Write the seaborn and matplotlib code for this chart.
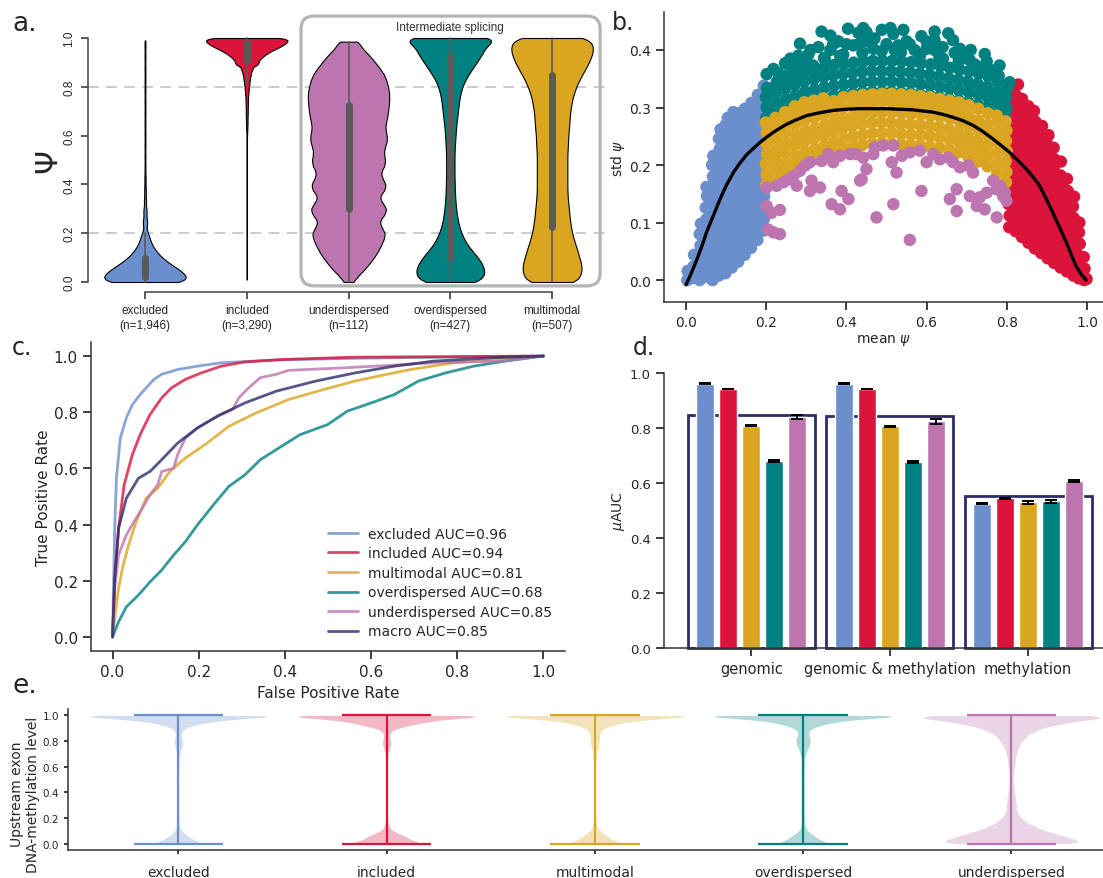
import numpy as np
import pandas as pd
import matplotlib
matplotlib.use("Agg")
import matplotlib.pyplot as plt
import seaborn as sns
from matplotlib.patches import FancyBboxPatch

# ------------------------------------------------------------------ colours
C_EXC, C_INC, C_UND, C_OVR, C_MUL = "#6b8fcc", "#dc143c", "#bc75af", "#008080", "#daa520"
NAVY = "#2b2d6b"
pal = {"excluded": C_EXC, "included": C_INC, "underdispersed": C_UND,
       "overdispersed": C_OVR, "multimodal": C_MUL}

# ------------------------------------------------------------------ panel a data (psi distributions)
classes_a = ["excluded", "included", "underdispersed", "overdispersed", "multimodal"]
n_a = ["1,946", "3,290", "112", "427", "507"]

psi_exc_levels = [0.0, 0.02, 0.04, 0.06, 0.08, 0.10, 0.12, 0.14, 0.16, 0.18, 0.20,
                  0.245, 0.29, 0.335, 0.38, 0.425, 0.47, 0.515, 0.56, 0.605, 0.65, 0.695,
                  0.74, 0.785, 0.83, 0.875, 0.92, 0.965, 0.99]
psi_exc_counts = [120, 101, 95, 75, 56, 41, 30, 21, 15, 11, 9,
                  11, 8, 5, 4, 3, 2, 2, 2, 2, 2, 2, 2, 2, 2, 2, 2, 2, 1]

psi_inc_levels = [0.01, 0.03, 0.05, 0.07, 0.09, 0.11, 0.13, 0.15, 0.17, 0.19, 0.21, 0.23,
                  0.25, 0.27, 0.29, 0.31, 0.33, 0.35, 0.37, 0.39, 0.41, 0.43, 0.45, 0.47,
                  0.49, 0.51, 0.53, 0.55, 0.57, 0.59, 0.61, 0.63, 0.65, 0.67, 0.69, 0.71,
                  0.73, 0.75, 0.77, 0.79, 0.81, 0.83, 0.85, 0.87, 0.89, 0.90, 0.91, 0.92,
                  0.93, 0.94, 0.95, 0.96, 0.97, 0.98, 0.99, 1.0]
psi_inc_counts = [1, 1, 1, 1, 1, 1, 1, 1, 1, 1, 1, 1, 1, 1, 1, 1, 1, 1, 1, 1, 1, 1, 1, 1,
                  1, 1, 1, 1, 1, 1, 2, 3, 4, 4, 5, 5, 6, 6, 8, 10, 13, 16, 20, 27, 38, 27,
                  32, 38, 46, 55, 67, 80, 93, 103, 104, 125]

psi_und_levels = [0.000, 0.025, 0.050, 0.075, 0.100, 0.125, 0.150, 0.175, 0.200, 0.225,
                  0.250, 0.275, 0.300, 0.325, 0.350, 0.375, 0.400, 0.425, 0.450, 0.475,
                  0.500, 0.525, 0.550, 0.575, 0.600, 0.625, 0.650, 0.675, 0.700, 0.725,
                  0.750, 0.775, 0.800, 0.825, 0.850, 0.875, 0.900, 0.925, 0.950, 0.975, 0.985]
psi_und_counts = [12, 24, 40, 53, 65, 75, 83, 90, 94, 84, 78, 92, 98, 86, 78, 92, 96, 86, 82,
                  92, 94, 90, 92, 98, 98, 94, 95, 99, 101, 103, 104, 104, 101, 97, 91, 80,
                  68, 55, 40, 24, 10]

psi_grid = [0.000, 0.025, 0.050, 0.075, 0.100, 0.125, 0.150, 0.175, 0.200, 0.225, 0.250,
            0.275, 0.300, 0.325, 0.350, 0.375, 0.400, 0.425, 0.450, 0.475, 0.500, 0.525,
            0.550, 0.575, 0.600, 0.625, 0.650, 0.675, 0.700, 0.725, 0.750, 0.775, 0.800,
            0.825, 0.850, 0.875, 0.900, 0.925, 0.950, 0.975, 1.000]
psi_ovr_counts = [90, 98, 100, 92, 80, 65, 50, 40, 32, 26, 22, 19, 17, 15, 14, 13, 13, 12, 12,
                  12, 12, 12, 13, 14, 15, 16, 18, 20, 22, 24, 26, 30, 34, 42, 52, 64, 76, 88,
                  98, 104, 160]
psi_mul_counts = [67, 70, 75, 73, 68, 64, 59, 54, 50, 47, 45, 43, 42, 40, 39, 38, 38, 38, 38,
                  38, 38, 38, 39, 40, 40, 42, 43, 44, 45, 48, 50, 55, 60, 67, 75, 84, 92, 98,
                  104, 100, 100]

# ------------------------------------------------------------------ panel b data (mean psi, std psi)
exc_pts = [
    (0.003, 0.000), (0.004, 0.016),
    (0.018, 0.004), (0.019, 0.024), (0.020, 0.044),
    (0.034, 0.000), (0.035, 0.020), (0.033, 0.040), (0.036, 0.060), (0.034, 0.080), (0.037, 0.098),
    (0.050, 0.006), (0.051, 0.026), (0.049, 0.046), (0.052, 0.066), (0.050, 0.086), (0.051, 0.106),
    (0.049, 0.126), (0.052, 0.146), (0.051, 0.162),
    (0.066, 0.000), (0.067, 0.020), (0.065, 0.040), (0.068, 0.060), (0.066, 0.080), (0.067, 0.100),
    (0.065, 0.120), (0.068, 0.140), (0.066, 0.160), (0.067, 0.180), (0.065, 0.200), (0.068, 0.216),
    (0.082, 0.008), (0.083, 0.028), (0.081, 0.048), (0.084, 0.068), (0.082, 0.088), (0.083, 0.108),
    (0.081, 0.128), (0.084, 0.148), (0.082, 0.168), (0.083, 0.188), (0.081, 0.208), (0.084, 0.228),
    (0.082, 0.246), (0.086, 0.262),
    (0.098, 0.012), (0.099, 0.032), (0.097, 0.052), (0.100, 0.072), (0.098, 0.092), (0.099, 0.112),
    (0.097, 0.132), (0.100, 0.152), (0.098, 0.172), (0.099, 0.192), (0.097, 0.212), (0.100, 0.232),
    (0.098, 0.252), (0.099, 0.270), (0.104, 0.282),
    (0.114, 0.022), (0.115, 0.042), (0.113, 0.062), (0.116, 0.082), (0.114, 0.102), (0.115, 0.122),
    (0.113, 0.142), (0.116, 0.162), (0.114, 0.182), (0.115, 0.202), (0.113, 0.222), (0.116, 0.242),
    (0.114, 0.262), (0.115, 0.280), (0.118, 0.292),
    (0.130, 0.032), (0.131, 0.052), (0.129, 0.072), (0.132, 0.092), (0.130, 0.112), (0.131, 0.132),
    (0.129, 0.152), (0.132, 0.172), (0.130, 0.192), (0.131, 0.212), (0.129, 0.232), (0.132, 0.252),
    (0.130, 0.272), (0.131, 0.290),
    (0.146, 0.044), (0.147, 0.064), (0.145, 0.084), (0.148, 0.104), (0.146, 0.124), (0.147, 0.144),
    (0.145, 0.164), (0.148, 0.184), (0.146, 0.204), (0.147, 0.224), (0.145, 0.244), (0.148, 0.264),
    (0.146, 0.282), (0.147, 0.298),
    (0.162, 0.056), (0.163, 0.076), (0.161, 0.096), (0.164, 0.116), (0.162, 0.136), (0.163, 0.156),
    (0.161, 0.176), (0.164, 0.196), (0.162, 0.216), (0.163, 0.236), (0.161, 0.256), (0.164, 0.276),
    (0.162, 0.294), (0.163, 0.308),
    (0.178, 0.070), (0.179, 0.090), (0.177, 0.110), (0.180, 0.130), (0.178, 0.150), (0.179, 0.170),
    (0.177, 0.190), (0.180, 0.210), (0.178, 0.230), (0.179, 0.250), (0.177, 0.270), (0.180, 0.290),
    (0.178, 0.308), (0.179, 0.322),
    (0.193, 0.086), (0.194, 0.106), (0.192, 0.126), (0.195, 0.146), (0.193, 0.166), (0.194, 0.186),
    (0.192, 0.206), (0.195, 0.226), (0.193, 0.246), (0.194, 0.266), (0.192, 0.286), (0.195, 0.306),
    (0.193, 0.324), (0.194, 0.338),
]
inc_pts = [
    (0.806, 0.092), (0.807, 0.112), (0.805, 0.132), (0.808, 0.152), (0.806, 0.172), (0.807, 0.192),
    (0.805, 0.212), (0.808, 0.232), (0.806, 0.252), (0.807, 0.272), (0.805, 0.292), (0.808, 0.312),
    (0.806, 0.330),
    (0.822, 0.085), (0.823, 0.105), (0.821, 0.125), (0.824, 0.145), (0.822, 0.165), (0.823, 0.185),
    (0.821, 0.205), (0.824, 0.225), (0.822, 0.245), (0.823, 0.265), (0.821, 0.285), (0.824, 0.305),
    (0.822, 0.322), (0.828, 0.340),
    (0.838, 0.075), (0.839, 0.095), (0.837, 0.115), (0.840, 0.135), (0.838, 0.155), (0.839, 0.175),
    (0.837, 0.195), (0.840, 0.215), (0.838, 0.235), (0.839, 0.255), (0.837, 0.275), (0.840, 0.295),
    (0.838, 0.315),
    (0.854, 0.065), (0.855, 0.085), (0.853, 0.105), (0.856, 0.125), (0.854, 0.145), (0.855, 0.165),
    (0.853, 0.185), (0.856, 0.205), (0.854, 0.225), (0.855, 0.245), (0.853, 0.265), (0.856, 0.285),
    (0.854, 0.302),
    (0.870, 0.055), (0.871, 0.075), (0.869, 0.095), (0.872, 0.115), (0.870, 0.135), (0.871, 0.155),
    (0.869, 0.175), (0.872, 0.195), (0.870, 0.215), (0.871, 0.235), (0.869, 0.255), (0.872, 0.275),
    (0.868, 0.294),
    (0.886, 0.047), (0.887, 0.067), (0.885, 0.087), (0.888, 0.107), (0.886, 0.127), (0.887, 0.147),
    (0.885, 0.167), (0.888, 0.187), (0.886, 0.207), (0.887, 0.227), (0.885, 0.247), (0.888, 0.268),
    (0.902, 0.038), (0.903, 0.058), (0.901, 0.078), (0.904, 0.098), (0.902, 0.118), (0.903, 0.138),
    (0.901, 0.158), (0.904, 0.178), (0.902, 0.198), (0.903, 0.218), (0.901, 0.236), (0.904, 0.252),
    (0.918, 0.030), (0.919, 0.050), (0.917, 0.070), (0.920, 0.090), (0.918, 0.110), (0.919, 0.130),
    (0.917, 0.150), (0.920, 0.170), (0.918, 0.190), (0.919, 0.210), (0.917, 0.230),
    (0.934, 0.022), (0.935, 0.042), (0.933, 0.062), (0.936, 0.082), (0.934, 0.102), (0.935, 0.122),
    (0.933, 0.142), (0.936, 0.162), (0.934, 0.182), (0.935, 0.206),
    (0.950, 0.015), (0.951, 0.035), (0.949, 0.055), (0.952, 0.075), (0.950, 0.095), (0.951, 0.115),
    (0.949, 0.135), (0.952, 0.155), (0.950, 0.176),
    (0.966, 0.008), (0.967, 0.028), (0.965, 0.048), (0.968, 0.068), (0.966, 0.088), (0.967, 0.108),
    (0.965, 0.128), (0.968, 0.145),
    (0.980, 0.003), (0.981, 0.023), (0.979, 0.043), (0.982, 0.063), (0.980, 0.083), (0.981, 0.100),
    (0.993, 0.000), (0.994, 0.020), (0.992, 0.040), (0.999, 0.002),
]
ovr_pts = [
    (0.200, 0.282), (0.201, 0.300), (0.199, 0.318), (0.202, 0.334),
    (0.224, 0.290), (0.225, 0.308), (0.223, 0.326), (0.226, 0.344),
    (0.248, 0.297), (0.249, 0.315), (0.247, 0.333), (0.250, 0.351),
    (0.272, 0.303), (0.273, 0.321), (0.271, 0.339), (0.274, 0.357), (0.272, 0.372),
    (0.296, 0.309), (0.297, 0.327), (0.295, 0.345), (0.298, 0.363), (0.296, 0.378),
    (0.320, 0.313), (0.321, 0.331), (0.319, 0.349), (0.322, 0.367),
    (0.344, 0.317), (0.345, 0.335), (0.343, 0.353), (0.346, 0.371), (0.344, 0.386),
    (0.368, 0.320), (0.369, 0.338), (0.367, 0.356), (0.370, 0.374),
    (0.392, 0.322), (0.393, 0.340), (0.391, 0.358), (0.394, 0.376), (0.392, 0.392),
    (0.416, 0.324), (0.417, 0.342), (0.415, 0.360), (0.418, 0.378),
    (0.440, 0.326), (0.441, 0.344), (0.439, 0.362), (0.442, 0.380), (0.440, 0.395),
    (0.464, 0.327), (0.465, 0.345), (0.463, 0.363), (0.466, 0.381),
    (0.488, 0.327), (0.489, 0.345), (0.487, 0.363), (0.490, 0.381), (0.488, 0.398),
    (0.512, 0.327), (0.513, 0.345), (0.511, 0.363), (0.514, 0.381),
    (0.536, 0.326), (0.537, 0.344), (0.535, 0.362), (0.538, 0.380), (0.536, 0.396),
    (0.560, 0.325), (0.561, 0.343), (0.559, 0.361), (0.562, 0.379),
    (0.584, 0.323), (0.585, 0.341), (0.583, 0.359), (0.586, 0.377), (0.584, 0.392),
    (0.608, 0.321), (0.609, 0.339), (0.607, 0.357), (0.610, 0.375),
    (0.632, 0.318), (0.633, 0.336), (0.631, 0.354), (0.634, 0.372), (0.632, 0.386),
    (0.656, 0.315), (0.657, 0.333), (0.655, 0.351), (0.658, 0.369),
    (0.680, 0.312), (0.681, 0.330), (0.679, 0.348), (0.682, 0.366), (0.680, 0.380),
    (0.704, 0.309), (0.705, 0.327), (0.703, 0.345), (0.706, 0.363),
    (0.728, 0.305), (0.729, 0.323), (0.727, 0.341), (0.730, 0.359),
    (0.752, 0.300), (0.753, 0.318), (0.751, 0.336), (0.754, 0.354),
    (0.776, 0.291), (0.777, 0.309), (0.775, 0.327), (0.778, 0.345),
    (0.798, 0.280), (0.799, 0.298), (0.797, 0.316), (0.800, 0.332),
    (0.230, 0.360), (0.260, 0.385), (0.280, 0.390), (0.310, 0.400), (0.330, 0.405), (0.360, 0.400),
    (0.380, 0.415), (0.400, 0.410), (0.430, 0.410), (0.450, 0.415), (0.470, 0.420), (0.500, 0.410),
    (0.520, 0.400), (0.550, 0.415), (0.570, 0.400), (0.600, 0.415), (0.620, 0.400), (0.640, 0.405),
    (0.670, 0.395), (0.690, 0.390), (0.720, 0.375), (0.740, 0.370), (0.760, 0.365), (0.780, 0.355),
    (0.430, 0.430), (0.360, 0.425), (0.510, 0.438), (0.620, 0.432), (0.710, 0.400), (0.750, 0.380),
    (0.201, 0.358), (0.218, 0.367), (0.247, 0.377), (0.251, 0.356), (0.267, 0.370), (0.284, 0.411),
    (0.305, 0.392), (0.317, 0.373), (0.338, 0.432), (0.346, 0.385), (0.367, 0.410), (0.384, 0.390),
    (0.404, 0.437), (0.417, 0.408), (0.442, 0.438), (0.450, 0.431), (0.467, 0.402), (0.488, 0.435),
    (0.517, 0.428), (0.529, 0.408), (0.542, 0.435), (0.558, 0.410), (0.583, 0.390), (0.587, 0.424),
    (0.600, 0.402), (0.620, 0.417), (0.641, 0.385), (0.654, 0.429), (0.666, 0.417), (0.683, 0.402),
    (0.708, 0.382), (0.745, 0.393), (0.782, 0.373), (0.807, 0.344),
]
mul_pts = [
    (0.200, 0.166), (0.201, 0.184), (0.199, 0.202), (0.202, 0.220), (0.200, 0.238), (0.201, 0.256), (0.199, 0.274),
    (0.224, 0.174), (0.225, 0.192), (0.223, 0.210), (0.226, 0.228), (0.224, 0.246), (0.225, 0.264), (0.223, 0.282),
    (0.248, 0.186), (0.249, 0.204), (0.247, 0.222), (0.250, 0.240), (0.248, 0.258), (0.249, 0.276), (0.247, 0.292),
    (0.272, 0.198), (0.273, 0.216), (0.271, 0.234), (0.274, 0.252), (0.272, 0.270), (0.273, 0.288), (0.271, 0.302),
    (0.296, 0.205), (0.297, 0.223), (0.295, 0.241), (0.298, 0.259), (0.296, 0.277), (0.297, 0.295), (0.295, 0.309),
    (0.320, 0.210), (0.321, 0.228), (0.319, 0.246), (0.322, 0.264), (0.320, 0.282), (0.321, 0.300), (0.319, 0.312),
    (0.344, 0.215), (0.345, 0.233), (0.343, 0.251), (0.346, 0.269), (0.344, 0.287), (0.345, 0.305), (0.343, 0.316),
    (0.368, 0.221), (0.369, 0.239), (0.367, 0.257), (0.370, 0.275), (0.368, 0.293), (0.369, 0.311),
    (0.392, 0.228), (0.393, 0.246), (0.391, 0.264), (0.394, 0.282), (0.392, 0.300), (0.393, 0.318),
    (0.416, 0.232), (0.417, 0.250), (0.415, 0.268), (0.418, 0.286), (0.416, 0.304), (0.417, 0.320),
    (0.440, 0.235), (0.441, 0.253), (0.439, 0.271), (0.442, 0.289), (0.440, 0.307), (0.441, 0.322),
    (0.464, 0.237), (0.465, 0.255), (0.463, 0.273), (0.466, 0.291), (0.464, 0.309), (0.465, 0.323),
    (0.488, 0.238), (0.489, 0.256), (0.487, 0.274), (0.490, 0.292), (0.488, 0.310), (0.489, 0.324),
    (0.512, 0.238), (0.513, 0.256), (0.511, 0.274), (0.514, 0.292), (0.512, 0.310), (0.513, 0.324),
    (0.536, 0.236), (0.537, 0.254), (0.535, 0.272), (0.538, 0.290), (0.536, 0.308), (0.537, 0.323),
    (0.560, 0.235), (0.561, 0.253), (0.559, 0.271), (0.562, 0.289), (0.560, 0.307), (0.561, 0.322),
    (0.584, 0.234), (0.585, 0.252), (0.583, 0.270), (0.586, 0.288), (0.584, 0.306), (0.585, 0.320),
    (0.608, 0.232), (0.609, 0.250), (0.607, 0.268), (0.610, 0.286), (0.608, 0.304), (0.609, 0.318),
    (0.632, 0.230), (0.633, 0.248), (0.631, 0.266), (0.634, 0.284), (0.632, 0.302), (0.633, 0.315),
    (0.656, 0.227), (0.657, 0.245), (0.655, 0.263), (0.658, 0.281), (0.656, 0.299), (0.657, 0.312),
    (0.680, 0.222), (0.681, 0.240), (0.679, 0.258), (0.682, 0.276), (0.680, 0.294), (0.681, 0.309),
    (0.704, 0.214), (0.705, 0.232), (0.703, 0.250), (0.706, 0.268), (0.704, 0.286), (0.705, 0.304),
    (0.728, 0.206), (0.729, 0.224), (0.727, 0.242), (0.730, 0.260), (0.728, 0.278), (0.729, 0.298),
    (0.752, 0.198), (0.753, 0.216), (0.751, 0.234), (0.754, 0.252), (0.752, 0.270), (0.753, 0.290),
    (0.776, 0.185), (0.777, 0.203), (0.775, 0.221), (0.778, 0.239), (0.776, 0.257), (0.777, 0.275), (0.775, 0.286),
    (0.798, 0.170), (0.799, 0.188), (0.797, 0.206), (0.800, 0.224), (0.798, 0.242), (0.799, 0.260), (0.797, 0.276),
]
und_pts = [
    (0.201, 0.161), (0.201, 0.129), (0.213, 0.117), (0.205, 0.088), (0.218, 0.083), (0.234, 0.080),
    (0.234, 0.122), (0.226, 0.164), (0.243, 0.170), (0.255, 0.175), (0.268, 0.181), (0.284, 0.190),
    (0.297, 0.199), (0.309, 0.205), (0.276, 0.164), (0.313, 0.173), (0.334, 0.161), (0.309, 0.155),
    (0.338, 0.207), (0.367, 0.205), (0.355, 0.219), (0.384, 0.216), (0.409, 0.219), (0.425, 0.219),
    (0.442, 0.213), (0.450, 0.193), (0.438, 0.175), (0.471, 0.231), (0.492, 0.234), (0.517, 0.234),
    (0.467, 0.219), (0.513, 0.205), (0.525, 0.187), (0.538, 0.216), (0.558, 0.222), (0.583, 0.225),
    (0.600, 0.205), (0.617, 0.219), (0.633, 0.210), (0.654, 0.213), (0.666, 0.205), (0.683, 0.196),
    (0.704, 0.199), (0.716, 0.187), (0.675, 0.158), (0.708, 0.146), (0.733, 0.144), (0.750, 0.152),
    (0.766, 0.173), (0.783, 0.164), (0.791, 0.146), (0.799, 0.138), (0.775, 0.109), (0.745, 0.123),
    (0.725, 0.129), (0.658, 0.141), (0.675, 0.120), (0.587, 0.155), (0.517, 0.132), (0.475, 0.109),
    (0.558, 0.070), (0.384, 0.123), (0.363, 0.132), (0.405, 0.141), (0.388, 0.155), (0.434, 0.173),
    (0.774, 0.158), (0.795, 0.152),
]
curve_mean = [0.000, 0.013, 0.027, 0.040, 0.051, 0.068, 0.085, 0.100, 0.118, 0.134, 0.151, 0.168,
              0.184, 0.200, 0.218, 0.234, 0.251, 0.276, 0.301, 0.334, 0.367, 0.400, 0.434, 0.467,
              0.500, 0.533, 0.566, 0.591, 0.616, 0.641, 0.666, 0.691, 0.716, 0.741, 0.766, 0.786,
              0.807, 0.828, 0.849, 0.866, 0.882, 0.898, 0.915, 0.932, 0.949, 0.961, 0.973, 0.986,
              0.998]
curve_std = [-0.008, 0.012, 0.036, 0.060, 0.083, 0.112, 0.141, 0.164, 0.187, 0.203, 0.218, 0.229,
             0.239, 0.248, 0.257, 0.264, 0.271, 0.279, 0.286, 0.291, 0.295, 0.297, 0.298, 0.298,
             0.298, 0.297, 0.296, 0.294, 0.292, 0.288, 0.283, 0.277, 0.269, 0.258, 0.245, 0.234,
             0.222, 0.208, 0.193, 0.179, 0.164, 0.142, 0.117, 0.091, 0.065, 0.044, 0.024, 0.010,
             0.000]

# ------------------------------------------------------------------ panel c data (ROC curves)
roc_exc_fpr = [0, 0.005, 0.009, 0.018, 0.032, 0.046, 0.064, 0.082, 0.096, 0.114, 0.151, 0.197, 0.252, 0.38, 0.563, 1.0]
roc_exc_tpr = [0, 0.387, 0.565, 0.708, 0.78, 0.827, 0.863, 0.893, 0.917, 0.935, 0.952, 0.964, 0.976, 0.986, 0.992, 1.0]
roc_inc_fpr = [0, 0.005, 0.014, 0.027, 0.046, 0.064, 0.087, 0.114, 0.137, 0.169, 0.206, 0.252, 0.307, 0.398, 0.563, 1.0]
roc_inc_tpr = [0, 0.196, 0.387, 0.542, 0.649, 0.72, 0.792, 0.851, 0.887, 0.917, 0.94, 0.964, 0.979, 0.988, 0.996, 1.0]
roc_mul_fpr = [0, 0.005, 0.014, 0.023, 0.037, 0.055, 0.078, 0.105, 0.133, 0.169, 0.215, 0.27, 0.334, 0.408, 0.49, 0.563, 0.618, 0.691, 0.792, 0.93, 1.0]
roc_mul_tpr = [0, 0.065, 0.173, 0.244, 0.327, 0.411, 0.494, 0.53, 0.589, 0.637, 0.685, 0.75, 0.798, 0.845, 0.881, 0.911, 0.929, 0.952, 0.976, 0.992, 1.0]
roc_ovr_fpr = [0, 0.014, 0.032, 0.06, 0.087, 0.114, 0.142, 0.169, 0.197, 0.234, 0.27, 0.307, 0.343, 0.38, 0.435, 0.499, 0.545, 0.6, 0.654, 0.71, 0.773, 0.838, 0.911, 1.0]
roc_ovr_tpr = [0, 0.054, 0.107, 0.149, 0.196, 0.238, 0.292, 0.339, 0.399, 0.47, 0.536, 0.577, 0.631, 0.667, 0.72, 0.756, 0.804, 0.833, 0.863, 0.911, 0.94, 0.964, 0.982, 1.0]
roc_und_fpr = [0, 0.005, 0.014, 0.032, 0.05, 0.069, 0.087, 0.105, 0.114, 0.142, 0.151, 0.169, 0.197, 0.224, 0.252, 0.279, 0.293, 0.316, 0.343, 0.38, 0.408, 0.535, 0.609, 0.747, 0.902, 1.0]
roc_und_tpr = [0, 0.173, 0.292, 0.363, 0.411, 0.458, 0.506, 0.542, 0.589, 0.601, 0.649, 0.708, 0.744, 0.768, 0.792, 0.81, 0.851, 0.887, 0.923, 0.935, 0.949, 0.958, 0.964, 0.976, 0.982, 1.0]
roc_mac_fpr = [0, 0.005, 0.014, 0.032, 0.06, 0.087, 0.114, 0.151, 0.197, 0.243, 0.307, 0.38, 0.472, 0.563, 0.654, 0.746, 0.884, 1.0]
roc_mac_tpr = [0, 0.208, 0.387, 0.494, 0.565, 0.589, 0.631, 0.69, 0.744, 0.786, 0.833, 0.875, 0.911, 0.94, 0.964, 0.982, 0.994, 1.0]
roc_labels = ["excluded AUC=0.96", "included AUC=0.94", "multimodal AUC=0.81",
              "overdispersed AUC=0.68", "underdispersed AUC=0.85", "macro AUC=0.85"]

# ------------------------------------------------------------------ panel d data (muAUC)
groups_d = ["genomic", "genomic & methylation", "methylation"]
classes_d = ["excluded", "included", "multimodal", "overdispersed", "underdispersed"]
auc_exc = [0.961, 0.961, 0.525]
auc_inc = [0.942, 0.942, 0.544]
auc_mul = [0.808, 0.806, 0.530]
auc_ovr = [0.680, 0.676, 0.533]
auc_und = [0.840, 0.824, 0.608]
err_exc = [0.001, 0.001, 0.002]
err_inc = [0.001, 0.001, 0.003]
err_mul = [0.002, 0.002, 0.005]
err_ovr = [0.004, 0.004, 0.006]
err_und = [0.009, 0.009, 0.003]
auc_macro = [0.847, 0.842, 0.553]

# ------------------------------------------------------------------ panel e data (methylation)
classes_e = ["excluded", "included", "multimodal", "overdispersed", "underdispersed"]
meth_levels = [0.0, 0.015, 0.03, 0.045, 0.06, 0.08, 0.1, 0.125, 0.15, 0.18, 0.21, 0.25, 0.3,
               0.35, 0.4, 0.45, 0.5, 0.55, 0.6, 0.64, 0.68, 0.71, 0.74, 0.77, 0.8, 0.83, 0.86,
               0.88, 0.9, 0.91, 0.92, 0.93, 0.94, 0.95, 0.96, 0.97, 0.98, 0.99, 1.0]
meth_exc = [130, 68, 57, 45, 38, 28, 18, 12, 8, 6, 5, 5, 5, 5, 5, 5, 5, 5, 5, 6, 9, 12, 21, 30,
            30, 24, 18, 18, 24, 22, 32, 45, 60, 80, 105, 135, 170, 210, 500]
meth_inc = [200, 105, 90, 78, 79, 60, 32, 18, 11, 8, 5, 5, 5, 5, 5, 5, 5, 5, 5, 6, 9, 12, 21, 30,
            30, 24, 20, 24, 38, 40, 55, 70, 85, 100, 120, 150, 180, 215, 500]
meth_mul = [145, 75, 63, 54, 53, 40, 27, 18, 11, 9, 9, 9, 10, 10, 10, 10, 10, 10, 10, 10, 14, 15,
            24, 30, 33, 36, 33, 30, 33, 30, 40, 52, 65, 82, 105, 135, 170, 210, 500]
meth_ovr = [142, 72, 60, 51, 49, 36, 23, 15, 11, 9, 9, 11, 12, 12, 12, 12, 12, 12, 12, 12, 18, 24,
            36, 48, 54, 51, 33, 28, 33, 30, 40, 52, 65, 82, 105, 135, 170, 210, 500]
meth_und = [400, 243, 228, 213, 224, 210, 191, 155, 124, 90, 70, 63, 60, 50, 40, 30, 25, 25, 35,
            36, 38, 39, 48, 60, 81, 105, 115, 116, 108, 82, 95, 112, 130, 150, 170, 195, 215, 235,
            500]

# ------------------------------------------------------------------ figure
sns.set_theme(style="ticks")
plt.rcParams["font.family"] = ["DejaVu Sans"]
plt.rcParams["axes.edgecolor"] = "#333333"
plt.rcParams["axes.linewidth"] = 1.1
NARROW = ["Liberation Sans Narrow", "Liberation Sans", "DejaVu Sans"]

W, H = 1103, 879
fig = plt.figure(figsize=(W / 100, H / 100), dpi=100)


def px_axes(l, t, r, b):
    return fig.add_axes([l / W, 1 - b / H, (r - l) / W, (b - t) / H])


# ================================================================== panel a
axa = px_axes(88, 29, 605, 293)
for y in (0.2, 0.8):
    axa.axhline(y, color="#c8c8c8", lw=1.3, ls=(0, (6, 4)), zorder=0)
specs_a = [("excluded", psi_exc_levels, psi_exc_counts, 0.018),
           ("included", psi_inc_levels, psi_inc_counts, 0.009),
           ("underdispersed", psi_und_levels, psi_und_counts, 0.015),
           ("overdispersed", psi_grid, psi_ovr_counts, 0.02),
           ("multimodal", psi_grid, psi_mul_counts, 0.02)]
for cls, lv, ct, h in specs_a:
    obs = np.repeat(np.asarray(lv, float), ct)
    d = pd.DataFrame({"cls": cls, "psi": obs})
    sns.violinplot(data=d, x="cls", y="psi", order=classes_a, color=pal[cls], saturation=1,
                   cut=0, density_norm="width", width=0.8, bw_method=h / obs.std(ddof=1),
                   gridsize=300, linewidth=0.8, linecolor="black", inner="box",
                   inner_kws=dict(box_width=5, whis_width=1.2, color="#5a5a5a", marker=""),
                   ax=axa)
axa.set_xlim(-0.56, 4.52)
axa.set_ylim(-0.041, 1.041)
axa.spines[["top", "right"]].set_visible(False)
axa.spines["left"].set_bounds(0, 1)
axa.spines["bottom"].set_bounds(0, 4)
axa.spines["left"].set_color("#444444")
axa.spines["bottom"].set_color("#444444")
axa.set_xticks(range(len(classes_a)))
axa.set_xticklabels([f"{c}\n(n={n})" for c, n in zip(classes_a, n_a)],
                    fontsize=8.5, family=NARROW, linespacing=1.25)
axa.set_yticks([0, 0.2, 0.4, 0.6, 0.8, 1.0])
axa.set_yticklabels(["0.0", "0.2", "0.4", "0.6", "0.8", "1.0"], fontsize=8.5, family=NARROW,
                    rotation=90, va="center")
axa.tick_params(axis="both", length=5, color="#444444", pad=4)
axa.set_xlabel("")
axa.set_ylabel("Ψ", fontsize=22)
axa.yaxis.set_label_coords(-0.05, 0.5)
box = FancyBboxPatch((2 - 0.467, -0.016), 2.939, 1.106,
                     boxstyle="round,pad=0,rounding_size=0.13", mutation_aspect=0.417,
                     transform=axa.transData, fill=False, ec="#b4b4b4", lw=2.3, clip_on=False,
                     zorder=0.8)
axa.add_patch(box)
axa.text(3, 1.046, "Intermediate splicing", ha="center", va="center", fontsize=8.5,
         family=NARROW, color="#333333")

# ================================================================== panel b
axb = px_axes(664, 13, 1103, 303)
frames = []
for cls, pts in [("excluded", exc_pts), ("included", inc_pts), ("overdispersed", ovr_pts),
                 ("multimodal", mul_pts), ("underdispersed", und_pts)]:
    f = pd.DataFrame(pts, columns=["mean", "std"])
    f["cls"] = cls
    frames.append(f)
df_b = pd.concat(frames, ignore_index=True)
sns.scatterplot(data=df_b, x="mean", y="std", hue="cls", palette=pal, s=80, linewidth=0,
                legend=False, ax=axb)
sns.lineplot(x=curve_mean, y=curve_std, sort=False, estimator=None, color="black",
             linewidth=2.4, ax=axb)
axb.set_xlim(-0.055, 1.04)
axb.set_ylim(-0.038, 0.466)
axb.set_xticks([0, 0.2, 0.4, 0.6, 0.8, 1.0])
axb.set_yticks([0, 0.1, 0.2, 0.3, 0.4])
axb.tick_params(labelsize=10)
axb.set_xlabel("mean $\\psi$", fontsize=10, labelpad=2)
axb.set_ylabel("std $\\psi$", fontsize=10, labelpad=1)
sns.despine(ax=axb)

# ================================================================== panel c
axc = px_axes(91, 343, 565, 652)
roc = [(roc_exc_fpr, roc_exc_tpr, C_EXC), (roc_inc_fpr, roc_inc_tpr, C_INC),
       (roc_mul_fpr, roc_mul_tpr, C_MUL), (roc_ovr_fpr, roc_ovr_tpr, C_OVR),
       (roc_und_fpr, roc_und_tpr, C_UND), (roc_mac_fpr, roc_mac_tpr, NAVY)]
for (fpr, tpr, col), lab in zip(roc, roc_labels):
    sns.lineplot(x=fpr, y=tpr, sort=False, estimator=None, color=col, alpha=0.8,
                 linewidth=2, label=lab, ax=axc)
axc.set_xlim(-0.05, 1.05)
axc.set_ylim(-0.05, 1.05)
axc.set_xticks([0, 0.2, 0.4, 0.6, 0.8, 1.0])
axc.set_yticks([0, 0.2, 0.4, 0.6, 0.8, 1.0])
axc.tick_params(labelsize=11)
axc.set_xlabel("False Positive Rate", fontsize=11)
axc.set_ylabel("True Positive Rate", fontsize=11, labelpad=2)
axc.legend(loc="lower right", bbox_to_anchor=(1.0, 0.0), frameon=False, fontsize=10,
           handlelength=2.2, labelspacing=0.4, handletextpad=0.75)
sns.despine(ax=axc)

# ================================================================== panel d
axd = px_axes(664, 374, 1103, 649)
sns.barplot(x=groups_d, y=auc_macro, order=groups_d, fill=False, color=NAVY, width=0.92,
            linewidth=2.0, errorbar=None, ax=axd)
for p in axd.patches:
    p.set_clip_on(False)
df_d = pd.DataFrame({
    "group": groups_d * 5,
    "cls": [c for c in classes_d for _ in groups_d],
    "auc": auc_exc + auc_inc + auc_mul + auc_ovr + auc_und,
})
sns.barplot(data=df_d, x="group", y="auc", hue="cls", order=groups_d, hue_order=classes_d,
            palette=pal, saturation=1, width=0.833, gap=0.22, errorbar=None, legend=False,
            ax=axd)
for cont, errs in zip(axd.containers[1:], [err_exc, err_inc, err_mul, err_ovr, err_und]):
    xs = [b.get_x() + b.get_width() / 2 for b in cont]
    ys = [b.get_height() for b in cont]
    axd.errorbar(xs, ys, yerr=errs, fmt="none", ecolor="black", elinewidth=1.4, capsize=4.5,
                 capthick=1.4, zorder=5)
axd.set_xlim(-0.63, 2.54)
axd.set_ylim(0, 1.0)
axd.set_yticks([0, 0.2, 0.4, 0.6, 0.8, 1.0])
axd.tick_params(axis="y", labelsize=9.5)
axd.tick_params(axis="x", labelsize=10.5)
axd.set_xlabel("")
axd.set_ylabel("$\\mu$AUC", fontsize=10, labelpad=2)
sns.despine(ax=axd)

# ================================================================== panel e
axe = px_axes(68, 710, 1103, 851)
specs_e = [("excluded", meth_exc, 0.015), ("included", meth_inc, 0.015),
           ("multimodal", meth_mul, 0.015), ("overdispersed", meth_ovr, 0.015),
           ("underdispersed", meth_und, 0.02)]
for i, (cls, ct, h) in enumerate(specs_e):
    obs = np.repeat(np.asarray(meth_levels, float), ct)
    d = pd.DataFrame({"cls": cls, "meth": obs})
    sns.violinplot(data=d, x="cls", y="meth", order=classes_e, color=pal[cls], saturation=1,
                   cut=0, density_norm="width", width=0.85, inner=None, linewidth=0,
                   gridsize=300, bw_method=h / obs.std(ddof=1), alpha=0.3, ax=axe)
    axe.vlines(i, obs.min(), obs.max(), color=pal[cls], lw=1.6)
    axe.hlines([obs.min(), obs.max()], i - 0.215, i + 0.215, color=pal[cls], lw=1.6)
axe.set_xlim(-0.53, 4.44)
axe.set_ylim(-0.05, 1.05)
axe.set_yticks([0, 0.2, 0.4, 0.6, 0.8, 1.0])
axe.set_xticks(range(5))
axe.set_xticklabels(classes_e)
axe.tick_params(axis="y", labelsize=7.5, length=3)
axe.tick_params(axis="x", labelsize=10, pad=8, length=3)
axe.set_xlabel("")
axe.set_ylabel("Upstream exon\nDNA-methylation level", fontsize=10)
axe.yaxis.set_label_coords(-0.027, 0.4)
sns.despine(ax=axe)

# ================================================================== panel letters
for lab, x, y, fs in [("a.", 12, 31, 19), ("b.", 612, 30, 17), ("c.", 12, 355, 17),
                      ("d.", 633, 355, 17), ("e.", 12, 693, 19)]:
    fig.text(x / W, 1 - y / H, lab, fontsize=fs, va="baseline", ha="left")

fig.savefig("out.png", dpi=100)
